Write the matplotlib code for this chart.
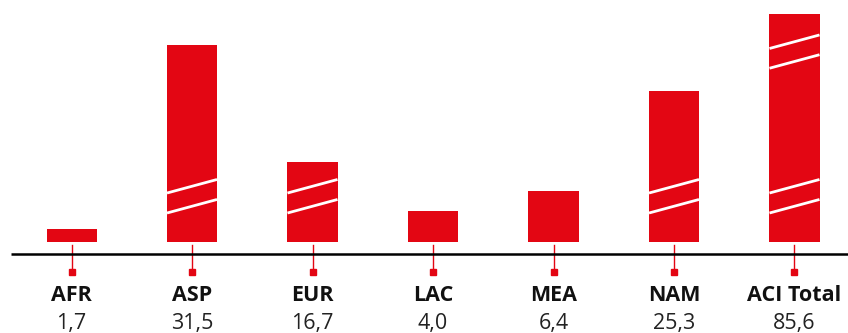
import matplotlib.pyplot as plt
from matplotlib.lines import Line2D

regions = ['AFR', 'ASP', 'EUR', 'LAC', 'MEA', 'NAM', 'ACI Total']
values = [1.7, 31.5, 16.7, 4.0, 6.4, 25.3, 85.6]
# bar heights as drawn (broken bars are shortened)
shown = [1.6, 25.9, 10.4, 4.0, 6.65, 19.8, 29.9]
breaks = [0, 1, 1, 0, 0, 1, 2]

red = '#e30613'
plt.rcParams['font.family'] = ['Open Sans', 'DejaVu Sans']

fig = plt.figure(figsize=(8.48, 3.33), dpi=100)
ax = fig.add_axes([0, 0, 1, 1])
ax.set_xlim(-0.5934, 6.444)
ax.set_ylim(-12.04, 31.78)
ax.axis('off')

w = 0.415
x = list(range(len(regions)))
ax.bar(x, shown, width=w, color=red, zorder=2)

# break marks (white slanted lines)
rise = 1.78
for i, n in enumerate(breaks):
    if n == 0:
        continue
    marks = [(6.38, 3.75)] if n == 1 else [(6.38, 3.75), (25.4, 22.8)]
    for pair in marks:
        for y0 in pair:
            ax.add_line(Line2D([i - w / 2, i + w / 2], [y0, y0 + rise],
                               color='white', lw=2.0, zorder=3,
                               solid_capstyle='butt'))

# tick lines and squares
for i in x:
    ax.plot([i, i], [-0.46, -3.75], color=red, lw=1.0, zorder=2)
    ax.plot(i, -4.01, marker='s', ms=4.0, color=red, mec=red, zorder=2)

# baseline axis
ax.plot([-0.502, 6.45], [-1.645, -1.645], color='black', lw=1.8,
        solid_capstyle='butt', zorder=4)

for i, (r, v) in enumerate(zip(regions, values)):
    ax.text(i, -7.86, r, ha='center', va='baseline', fontsize=15.5,
            fontweight='bold', color='#111111')
    ax.text(i, -11.5, f'{v:.1f}'.replace('.', ','), ha='center',
            va='baseline', fontsize=15.5, fontweight='normal', color='#222222')

fig.savefig('out.png', dpi=100)
